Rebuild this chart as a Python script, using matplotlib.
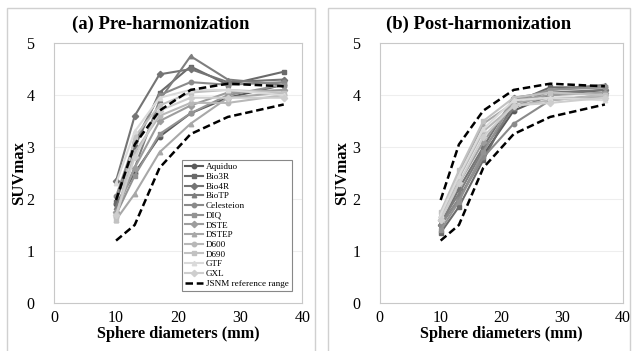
import matplotlib.pyplot as plt
from matplotlib.patches import Rectangle


SPHERE_DIAMETERS = [10, 13, 17, 22, 28, 37]

SYSTEM_LABELS = [
    "Aquiduo", "Bio3R", "Bio4R", "BioTP", "Celesteion", "DIQ",
    "DSTE", "DSTEP", "D600", "D690", "GTF", "GXL",
]

PRE_VALUES = [
    [1.90, 2.50, 3.20, 3.65, 3.95, 4.20],
    [1.95, 3.00, 4.05, 4.55, 4.20, 4.45],
    [2.35, 3.60, 4.40, 4.50, 4.25, 4.30],
    [1.85, 2.60, 3.90, 4.75, 4.30, 4.20],
    [2.05, 3.10, 4.00, 4.25, 4.20, 4.25],
    [1.70, 2.45, 3.25, 3.65, 4.00, 4.20],
    [1.75, 2.60, 3.50, 3.80, 4.05, 4.10],
    [1.60, 2.10, 2.90, 3.45, 3.95, 4.05],
    [1.65, 2.90, 3.60, 3.85, 3.85, 4.00],
    [1.60, 3.20, 3.80, 4.05, 4.10, 4.05],
    [2.30, 3.30, 3.95, 4.10, 4.10, 4.00],
    [1.70, 2.80, 3.70, 3.95, 3.95, 3.95],
]

POST_VALUES = [
    [1.50, 2.00, 2.85, 3.70, 4.00, 4.10],
    [1.35, 1.85, 2.75, 3.85, 4.15, 4.15],
    [1.50, 2.20, 3.00, 3.95, 4.05, 4.10],
    [1.55, 2.10, 2.95, 3.75, 4.10, 4.20],
    [1.50, 2.00, 2.80, 3.45, 3.90, 4.00],
    [1.40, 1.95, 2.90, 3.90, 4.10, 4.15],
    [1.60, 2.30, 3.10, 3.90, 4.00, 4.05],
    [1.70, 2.50, 3.45, 3.85, 3.95, 3.95],
    [1.65, 2.40, 3.30, 3.80, 3.90, 4.00],
    [1.75, 2.55, 3.50, 3.95, 4.05, 4.00],
    [1.70, 2.45, 3.35, 3.90, 3.95, 3.90],
    [1.60, 2.30, 3.20, 3.80, 3.85, 3.95],
]

JSNM_LOWER = [1.20, 1.50, 2.60, 3.25, 3.58, 3.82]
JSNM_UPPER = [1.98, 3.05, 3.70, 4.10, 4.22, 4.17]

COLORS = [
    "#5a5a5a", "#6a6a6a", "#747474", "#7e7e7e", "#8a8a8a", "#939393",
    "#9d9d9d", "#a8a8a8", "#b8b8b8", "#c2c2c2", "#dadada", "#cecece",
]
MARKERS = ["o", "s", "D", "^", "o", "s", "D", "^", "o", "s", "^", "D"]

plt.rcParams["font.family"] = ["Liberation Serif", "DejaVu Serif"]


def draw_panel(ax, values, ylabel_pad, show_legend):
    for label, series, color, marker in zip(SYSTEM_LABELS, values, COLORS, MARKERS):
        ax.plot(SPHERE_DIAMETERS, series, color=color, marker=marker,
                markersize=3.2, linewidth=1.5, label=label)
    ax.plot(SPHERE_DIAMETERS, JSNM_LOWER, color="black", linestyle=(0, (3, 1.5)),
            linewidth=1.8, label="JSNM reference range")
    ax.plot(SPHERE_DIAMETERS, JSNM_UPPER, color="black", linestyle=(0, (3, 1.5)),
            linewidth=1.8)

    ax.set_xlim(0, 40)
    ax.set_ylim(0, 5)
    ax.set_xticks([0, 10, 20, 30, 40])
    ax.set_yticks([0, 1, 2, 3, 4, 5])
    ax.tick_params(length=0, labelsize=11.5)
    ax.tick_params(axis="y", pad=14)
    ax.tick_params(axis="x", pad=5)
    ax.grid(axis="y", color="#eeeeee", linewidth=0.8)
    ax.set_axisbelow(True)
    for spine in ax.spines.values():
        spine.set_color("#c8c8c8")
        spine.set_linewidth(0.8)

    ax.set_xlabel("Sphere diameters (mm)", fontsize=11.7, fontweight="bold", labelpad=0)
    ax.set_ylabel("SUVmax", fontsize=12, fontweight="bold", labelpad=ylabel_pad)

    if show_legend:
        leg = ax.legend(loc="lower right", bbox_to_anchor=(0.975, 0.03),
                        fontsize=6.6, handlelength=2.0, handletextpad=0.3,
                        labelspacing=0.14, borderpad=0.3, fancybox=False,
                        framealpha=1)
        leg.get_frame().set_edgecolor("#888888")
        leg.get_frame().set_linewidth(0.8)


def main():
    fig = plt.figure(figsize=(6.32, 3.51), dpi=100)

    panels = [(0.011, 0.487, "(a) Pre-harmonization"),
              (0.519, 0.478, "(b) Post-harmonization")]
    for x0, w, title in panels:
        fig.patches.append(Rectangle((x0, -0.02), w, 0.997, transform=fig.transFigure,
                                     fill=False, edgecolor="#d0d0d0", linewidth=1.0))
        fig.text(x0 + w / 2, 0.932, title, ha="center", va="center",
                 fontsize=13.4, fontweight="bold")

    ax_pre = fig.add_axes([0.0854, 0.137, 0.393, 0.740])
    ax_post = fig.add_axes([0.601, 0.137, 0.385, 0.740])

    draw_panel(ax_pre, PRE_VALUES, -0.5, True)
    draw_panel(ax_post, POST_VALUES, 2, False)

    fig.savefig("out.png", dpi=100)
    plt.close(fig)


if __name__ == "__main__":
    main()
